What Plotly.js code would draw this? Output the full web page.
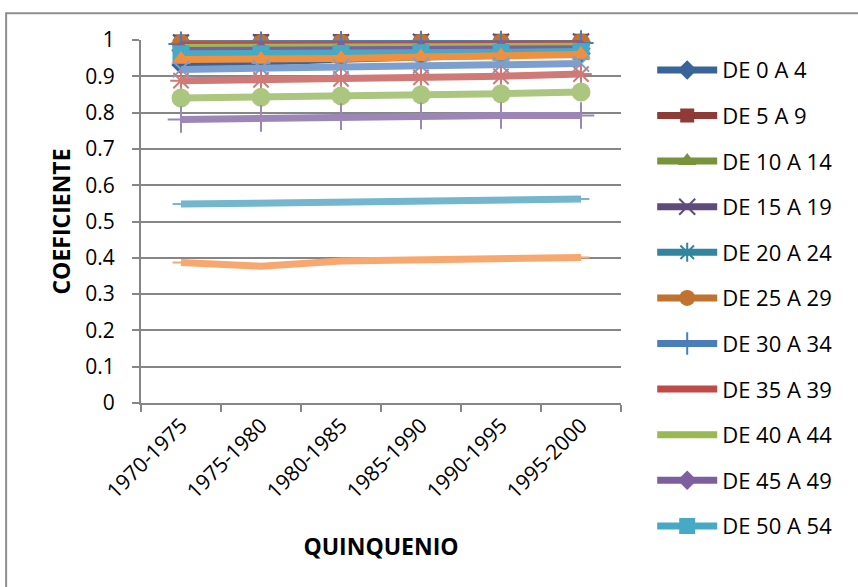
<!DOCTYPE html>
<html>
<head>
<meta charset="utf-8">
<script src="https://cdn.plot.ly/plotly-3.0.1.min.js"></script>
<style>html,body{margin:0;padding:0;background:#fff;}#chart{width:858px;height:587px;}</style>
</head>
<body>
<div id="chart"></div>
<script>
const categories = ["1970-1975", "1975-1980", "1980-1985", "1985-1990", "1990-1995", "1995-2000"];
const seriesNames = ["DE 0 A 4", "DE 5 A 9", "DE 10 A 14", "DE 15 A 19", "DE 20 A 24", "DE 25 A 29",
  "DE 30 A 34", "DE 35 A 39", "DE 40 A 44", "DE 45 A 49", "DE 50 A 54", "DE 55 A 59",
  "DE 60 A 64", "DE 65 A 69", "DE 70 A 74", "DE 75 A 79", "DE 80 A 84", "DE 85 Y MAS"];

const de0_4   = [0.931, 0.940, 0.947, 0.953, 0.958, 0.963];
const de5_9   = [0.996, 0.997, 0.997, 0.997, 0.998, 0.998];
const de10_14 = [0.997, 0.997, 0.998, 0.998, 0.998, 0.998];
const de15_19 = [0.993, 0.994, 0.994, 0.995, 0.995, 0.996];
const de20_24 = [0.992, 0.992, 0.993, 0.994, 0.994, 0.995];
const de25_29 = [0.991, 0.991, 0.992, 0.993, 0.993, 0.994];
const de30_34 = [0.989, 0.989, 0.990, 0.991, 0.991, 0.992];
const de35_39 = [0.985, 0.985, 0.986, 0.987, 0.988, 0.989];
const de40_44 = [0.979, 0.979, 0.980, 0.981, 0.982, 0.983];
const de45_49 = [0.971, 0.971, 0.972, 0.974, 0.975, 0.976];
const de50_54 = [0.962, 0.962, 0.963, 0.965, 0.966, 0.968];
const de55_59 = [0.946, 0.946, 0.949, 0.953, 0.956, 0.960];
const de60_64 = [0.919, 0.922, 0.926, 0.929, 0.931, 0.935];
const de65_69 = [0.888, 0.890, 0.893, 0.897, 0.900, 0.906];
const de70_74 = [0.840, 0.842, 0.846, 0.849, 0.852, 0.857];
const de75_79 = [0.781, 0.784, 0.789, 0.791, 0.792, 0.792];
const de80_84 = [0.548, 0.551, 0.554, 0.556, 0.559, 0.562];
const de85_mas = [0.387, 0.377, 0.391, 0.393, 0.397, 0.401];

const seriesValues = [de0_4, de5_9, de10_14, de15_19, de20_24, de25_29, de30_34, de35_39, de40_44,
  de45_49, de50_54, de55_59, de60_64, de65_69, de70_74, de75_79, de80_84, de85_mas];

const colors = ["#38649A", "#8E3B38", "#77933C", "#5F4A7E", "#31859C", "#C0722E",
  "#4A7EBB", "#BE4B48", "#98B954", "#7D5FA0", "#46AAC5", "#F0903F",
  "#7B9FCF", "#D07A78", "#ABC67E", "#9B86B7", "#73B6CD", "#F8A86E"];
const symbols = ["diamond", "square", "triangle-up", "x-thin-open", "asterisk-open", "circle",
  "cross-thin-open", "line-ew-open", "line-ew-open", "diamond", "square", "triangle-up",
  "x-thin-open", "asterisk-open", "circle", "cross-thin-open", "line-ew-open", "line-ew-open"];
const sizes = [15, 14, 16, 16, 16, 18, 18, 12, 12, 15, 17, 17, 16, 18, 19, 19, 12, 12];
const legendShown = 11;

const traces = seriesNames.map((name, i) => ({
  type: "scatter",
  mode: "lines+markers",
  name: name,
  x: categories,
  y: seriesValues[i],
  cliponaxis: false,
  legendgroup: "g" + i,
  showlegend: i < legendShown,
  line: {color: colors[i], width: 7},
  marker: {
    symbol: symbols[i],
    size: sizes[i],
    color: colors[i],
    line: {color: colors[i], width: symbols[i].indexOf("open") >= 0 ? 2 : 0}
  }
}));

const font = "'Open Sans', 'DejaVu Sans', sans-serif";
const axisColor = "#868686";

const layout = {
  width: 858,
  height: 587,
  margin: {l: 141, r: 237, t: 40, b: 184, pad: 0},
  paper_bgcolor: "#ffffff",
  plot_bgcolor: "#ffffff",
  font: {family: font, color: "#000000", size: 21},
  showlegend: true,
  legend: {
    x: 1.065, xanchor: "left",
    y: 0.975, yanchor: "top",
    font: {family: font, size: 22, color: "#000000"},
    tracegroupgap: 14,
    itemwidth: 60,
    maxheight: 570,
    bgcolor: "rgba(0,0,0,0)"
  },
  xaxis: {
    type: "category",
    range: [-0.5, 5.5],
    showgrid: false,
    showline: true,
    linecolor: axisColor,
    linewidth: 2,
    ticks: "outside",
    tickson: "boundaries",
    ticklen: 7,
    tickwidth: 2,
    tickcolor: axisColor,
    tickangle: -45,
    tickfont: {family: font, size: 21},
    title: {text: "<b>QUINQUENIO</b>", font: {family: font, size: 23}, standoff: 36},
    zeroline: false,
    fixedrange: true
  },
  yaxis: {
    range: [0, 1],
    dtick: 0.1,
    tick0: 0,
    showgrid: true,
    gridcolor: axisColor,
    gridwidth: 2,
    showline: true,
    linecolor: axisColor,
    linewidth: 2,
    ticks: "outside",
    ticklen: 7,
    tickwidth: 2,
    tickcolor: axisColor,
    ticklabelstandoff: 13,
    tickfont: {family: font, size: 21},
    title: {text: "<b>COEFICIENTE</b>", font: {family: font, size: 23}, standoff: 8},
    zeroline: false,
    fixedrange: true
  },
  shapes: [{
    type: "rect", xref: "paper", yref: "paper",
    x0: -0.281, x1: 1.6, y0: 1.074, y1: -0.6,
    line: {color: "#8E8E8E", width: 2},
    fillcolor: "rgba(0,0,0,0)",
    layer: "below"
  }]
};

Plotly.newPlot("chart", traces, layout, {displayModeBar: false, staticPlot: true});
</script>
</body>
</html>
